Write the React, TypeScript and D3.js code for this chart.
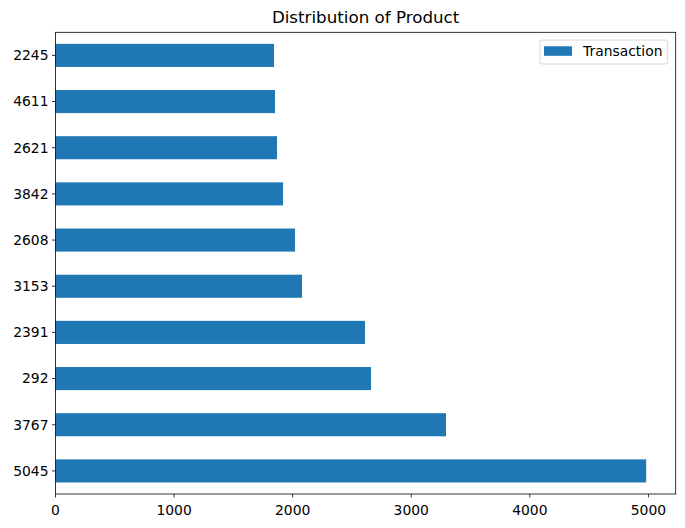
import React from "react";
import * as d3 from "d3";

const categories = ["5045", "3767", "292", "2391", "3153", "2608", "3842", "2621", "4611", "2245"];
const transactions = [4981, 3293, 2661, 2610, 2079, 2020, 1919, 1868, 1851, 1843];
const xTicks = [0, 1000, 2000, 3000, 4000, 5000];
const title = "Distribution of Product";
const seriesName = "Transaction";

const W = 685, H = 528;
const left = 55.5, right = 675.7, top = 32.3, bottom = 494;
const color = "#1f77b4";
const font = "DejaVu Sans, sans-serif";

export default function App() {
  const xMax = d3.max(transactions)! * 1.05;
  const x = d3.scaleLinear().domain([0, xMax]).range([left, right]);
  const y = d3.scaleLinear().domain([-0.5, categories.length - 0.5]).range([bottom, top]);
  const bw = y(0) - y(0.5);
  return (
    <svg width={W} height={H} style={{ position: "absolute", left: 0, top: 0, background: "#fff" }}>
      <rect x={0} y={0} width={W} height={H} fill="#fff" />
      <text x={(left + right) / 2} y={23} textAnchor="middle" fontFamily={font} fontSize={16.7} fill="#000">{title}</text>
      {categories.map((c, i) => (
        <rect key={c} x={x(0)} y={y(i) - bw / 2} width={x(transactions[i]) - x(0)} height={bw} fill={color} />
      ))}
      {categories.map((c, i) => (
        <g key={"t" + c}>
          <line x1={left - 3.5} x2={left} y1={y(i)} y2={y(i)} stroke="#000" strokeWidth={0.8} />
          <text x={left - 7} y={y(i)} dy="0.35em" textAnchor="end" fontFamily={font} fontSize={13.9} fill="#000">{c}</text>
        </g>
      ))}
      {xTicks.map((t) => (
        <g key={"x" + t}>
          <line x1={x(t)} x2={x(t)} y1={bottom} y2={bottom + 3.5} stroke="#000" strokeWidth={0.8} />
          <text x={x(t)} y={bottom + 7} dy="1em" textAnchor="middle" fontFamily={font} fontSize={13.9} fill="#000">{t}</text>
        </g>
      ))}
      <rect x={left} y={top} width={right - left} height={bottom - top} fill="none" stroke="#000" strokeWidth={0.8} />
      <g>
        <rect x={540} y={40} width={127.7} height={24} rx={2.5} fill="#fff" fillOpacity={0.8} stroke="#ccc" strokeWidth={0.8} />
        <rect x={544} y={46.3} width={28} height={9.5} fill={color} />
        <text x={583} y={51} dy="0.35em" fontFamily={font} fontSize={13.9} fill="#000">{seriesName}</text>
      </g>
    </svg>
  );
}
